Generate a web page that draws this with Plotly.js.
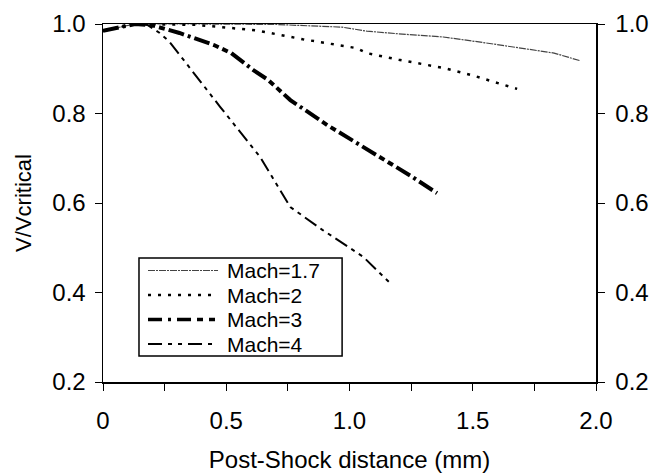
<!DOCTYPE html>
<html>
<head>
<meta charset="utf-8">
<script src="https://cdn.plot.ly/plotly-3.0.1.min.js"></script>
<style>html,body{margin:0;padding:0;background:#fff;}#chart{width:651px;height:475px;}</style>
</head>
<body>
<div id="chart"></div>
<script>
// Data
const seriesNames = ["Mach=1.7", "Mach=2", "Mach=3", "Mach=4"];

const x17 = [0, 0.06, 0.13, 0.4, 0.7, 0.97, 1.07, 1.2, 1.38, 1.55, 1.7, 1.83, 1.935];
const y17 = [0.985, 0.992, 1.0, 1.0, 0.999, 0.993, 0.984, 0.978, 0.971, 0.958, 0.946, 0.935, 0.918];

const x2 = [0, 0.06, 0.13, 0.38, 0.47, 0.62, 0.81, 0.88, 1.03, 1.07, 1.2, 1.38, 1.5, 1.68];
const y2 = [0.985, 0.992, 1.0, 0.998, 0.993, 0.986, 0.966, 0.96, 0.946, 0.935, 0.92, 0.902, 0.885, 0.855];

const x3 = [0, 0.06, 0.13, 0.2, 0.31, 0.45, 0.52, 0.61, 0.67, 0.76, 0.91, 1.11, 1.25, 1.355];
const y3 = [0.985, 0.992, 1.0, 0.997, 0.98, 0.953, 0.935, 0.897, 0.875, 0.83, 0.774, 0.707, 0.66, 0.622];

const x4 = [0, 0.06, 0.13, 0.18, 0.23, 0.27, 0.39, 0.475, 0.637, 0.76, 0.89, 1.055, 1.165];
const y4 = [0.985, 0.992, 1.0, 0.998, 0.98, 0.96, 0.875, 0.815, 0.703, 0.591, 0.54, 0.48, 0.421];

const xTickVals = [0, 0.25, 0.5, 0.75, 1.0, 1.25, 1.5, 1.75, 2.0];
const xTickText = ["0", "", "0.5", "", "1.0", "", "1.5", "", "2.0"];
const yTickVals = [0.2, 0.4, 0.6, 0.8, 1.0];
const yTickText = ["0.2", "0.4", "0.6", "0.8", "1.0"];

const FONT = "Liberation Sans, Arial, sans-serif";

const lineStyles = [
  {color: "#444", width: 1.2, dash: "7px,1px,2px,1px"},
  {color: "#000", width: 2.5, dash: "3px,7px"},
  {color: "#000", width: 4, dash: "16px,4px,3px,4px,16px,4px,6px,4px,6px,4px"},
  {color: "#000", width: 2, dash: "14px,5px,4px,5px,4px,5px"}
];
const legendLineStyles = [
  {color: "#444", width: 1.2, dash: "7px,1px,2px,1px"},
  {color: "#000", width: 2.5, dash: "3px,7px"},
  {color: "#000", width: 3.5, dash: "14px,6px,3px,6px,14px,6px,6px,6px,6px,6px"},
  {color: "#000", width: 2, dash: "14px,6px,4px,6px,4px,6px"}
];

const xs = [x17, x2, x3, x4];
const ys = [y17, y2, y3, y4];

const traces = xs.map((x, i) => ({
  x: x, y: ys[i], name: seriesNames[i], mode: "lines", line: lineStyles[i], showlegend: false
}));
traces.push({x: [], y: [], yaxis: "y2", showlegend: false, hoverinfo: "skip", mode: "lines"});

// legend drawn in paper coordinates (box, samples, labels)
const legBox = {x0: 0.073, x1: 0.485, y0: 0.0726, y1: 0.3464};
const legRows = [0.3115, 0.243, 0.1746, 0.1061];
const shapes = [{type: "rect", xref: "paper", yref: "paper", x0: legBox.x0, x1: legBox.x1,
  y0: legBox.y0, y1: legBox.y1, line: {color: "#000", width: 1.5}, fillcolor: "#fff", layer: "above"}];
const annotations = [];
legRows.forEach((ry, i) => {
  shapes.push({type: "line", xref: "paper", yref: "paper", x0: 0.0913, x1: 0.2333, y0: ry, y1: ry,
    line: legendLineStyles[i], layer: "above"});
  annotations.push({xref: "paper", yref: "paper", x: 0.2495, y: ry, xanchor: "left", yanchor: "middle",
    text: seriesNames[i], showarrow: false, borderpad: 0,
    font: {family: FONT, size: 21, color: "#000"}});
});

const layout = {
  width: 651, height: 475,
  margin: {l: 103, r: 55, t: 24, b: 93},
  paper_bgcolor: "#fff", plot_bgcolor: "#fff",
  font: {family: FONT, size: 24, color: "#000"},
  showlegend: false,
  shapes: shapes,
  annotations: annotations,
  xaxis: {
    range: [0, 2.0], tickmode: "array", tickvals: xTickVals, ticktext: xTickText,
    ticks: "outside", ticklen: 7, tickwidth: 1, tickcolor: "#000",
    ticklabelstandoff: 10,
    showline: true, linecolor: "#000", linewidth: 1.5, mirror: true,
    showgrid: false, zeroline: false,
    tickfont: {family: FONT, size: 24, color: "#000"},
    title: {text: "Post-Shock distance (mm)", font: {family: FONT, size: 24, color: "#000"}, standoff: 18}
  },
  yaxis: {
    range: [0.2, 1.0], tickmode: "array", tickvals: yTickVals, ticktext: yTickText,
    ticks: "outside", ticklen: 7, tickwidth: 1, tickcolor: "#000",
    ticklabelstandoff: 4,
    showline: true, linecolor: "#000", linewidth: 1.5,
    showgrid: false, zeroline: false,
    tickfont: {family: FONT, size: 24, color: "#000"},
    title: {text: "V/Vcritical", font: {family: FONT, size: 22, color: "#000"}, standoff: 14}
  },
  yaxis2: {
    overlaying: "y", side: "right", anchor: "x",
    range: [0.2, 1.0], tickmode: "array", tickvals: yTickVals, ticktext: yTickText,
    ticks: "outside", ticklen: 7, tickwidth: 1, tickcolor: "#000",
    ticklabelstandoff: 6,
    showline: true, linecolor: "#000", linewidth: 1.5,
    showgrid: false, zeroline: false,
    tickfont: {family: FONT, size: 24, color: "#000"}
  }
};

Plotly.newPlot("chart", traces, layout, {staticPlot: true, displayModeBar: false});
</script>
</body>
</html>
